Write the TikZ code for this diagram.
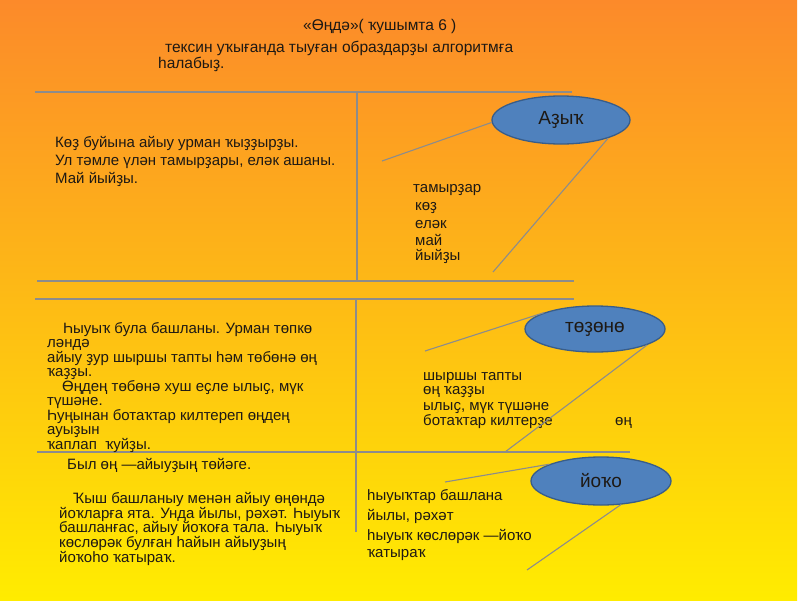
\documentclass[tikz,border=0pt]{standalone}
\usepackage{fontspec}
\setmainfont{Liberation Sans}
\usetikzlibrary{shapes.geometric}
\definecolor{bgtop}{RGB}{252,138,42}
\definecolor{bgmid}{RGB}{255,180,28}
\definecolor{bgbot}{RGB}{255,236,0}
\definecolor{rulecol}{RGB}{140,140,140}
\definecolor{txtcol}{RGB}{30,25,20}
\definecolor{ellfill}{RGB}{79,129,189}
\definecolor{elldraw}{RGB}{56,93,138}
\tikzset{
  txt/.style={anchor=base west, inner sep=0pt, text=txtcol, font=\fontsize{15}{17}\selectfont},
  ttl/.style={anchor=base west, inner sep=0pt, text=txtcol, font=\fontsize{15.5}{17}\selectfont},
  rule/.style={draw=rulecol, line width=1.2pt},
  conn/.style={draw=rulecol, line width=1.1pt},
  bubble/.style={ellipse, fill=ellfill, draw=elldraw, line width=1.3pt, inner sep=0pt, text=txtcol, font=\fontsize{19}{21}\selectfont}
}
\begin{document}
\begin{tikzpicture}[x=1pt,y=-1pt]
\useasboundingbox (0,0) rectangle (800,600);
\fill[white] (0,0) rectangle (800,600);
\shade[top color=bgtop, middle color=bgmid, bottom color=bgbot] (0,0) rectangle (797,600);

% table rules
\draw[rule] (35,92) -- (572,92);
\draw[rule] (357,92) -- (357,281);
\draw[rule] (37,281) -- (574,281);
\draw[rule] (35,299) -- (574,299);
\draw[rule] (356,299) -- (356,532);
\draw[rule] (37,452) -- (630,452);

% heading
\node[ttl] (h1) at (303,30) {«Өңдә»( ҡушымта 6 )};
\node[ttl] (h2) at (165,52) {тексин уҡығанда тыуған образдарҙы алгоритмға};
\node[ttl] (h3) at (158,68) {һалабыҙ.};

% texts
\foreach \px/\py/\t [count=\i] in {
  55/147/{Көҙ буйына айыу урман ҡыҙҙырҙы.},
  55/165/{Ул тәмле үлән тамырҙары, еләк ашаны.},
  55/183/{Май йыйҙы.},
  413/192/{тамырҙар},
  415/210/{көҙ},
  415/228/{еләк},
  415/245/{май},
  415/260/{йыйҙы},
  63/333/{Һыуыҡ була башланы. Урман төпкө},
  47/347.5/{ләндә},
  47/362/{айыу ҙур шыршы тапты һәм төбөнә өң},
  47/376.5/{ҡаҙҙы.},
  62/391/{Өңдең төбөнә хуш еҫле ылыҫ, мүк},
  47/405.5/{түшәне.},
  47/420/{Һуңынан ботаҡтар килтереп өңдең},
  47/434.5/{ауыҙын},
  47/449/{ҡаплап\ \ ҡуйҙы.},
  67/469/{Был өң —айыуҙың төйәге.},
  73/503/{Ҡыш башланыу менән айыу өңөндә},
  59/518/{йоҡларға ята. Унда йылы, рәхәт. Һыуыҡ},
  59/532/{башланғас, айыу йоҡоға тала. Һыуыҡ},
  59/547/{көслөрәк булған һайын айыуҙың},
  59/562/{йоҡоһо ҡатыраҡ.},
  423/380/{шыршы тапты},
  423/394.5/{өң ҡаҙҙы},
  423/410/{ылыҫ, мүк түшәне},
  423/425/{ботаҡтар килтерҙе},
  615/425/{өң},
  367/500/{һыуыҡтар башлана},
  367/520/{йылы, рәхәт},
  367/540/{һыуыҡ көслөрәк —йоҡо},
  367/557/{ҡатыраҡ}
}{
  \node[txt] (t\i) at (\px,\py) {\t};
}

% bubbles
\node[bubble, minimum width=138pt, minimum height=48pt] (azyk) at (561,120) {Аҙыҡ};
\node[bubble, minimum width=140pt, minimum height=46pt] (tozono) at (595,329) {төҙөнө};
\node[bubble, minimum width=140pt, minimum height=48pt] (yoko) at (601,481) {йоҡо};

% free ends
\coordinate (a1) at (382,161);
\coordinate (a2) at (493,272);
\coordinate (b1) at (425,351);
\coordinate (b2) at (505,452);
\coordinate (c1) at (445,482);
\coordinate (c2) at (527,570);

\draw[conn] (azyk.182) -- (a1);
\draw[conn] (azyk.-21) -- (a2);
\draw[conn] (tozono.162) -- (b1);
\draw[conn] (tozono.-17) -- (b2);
\draw[conn] (yoko.162) -- (c1);
\draw[conn] (yoko.-50) -- (c2);
\end{tikzpicture}
\end{document}
